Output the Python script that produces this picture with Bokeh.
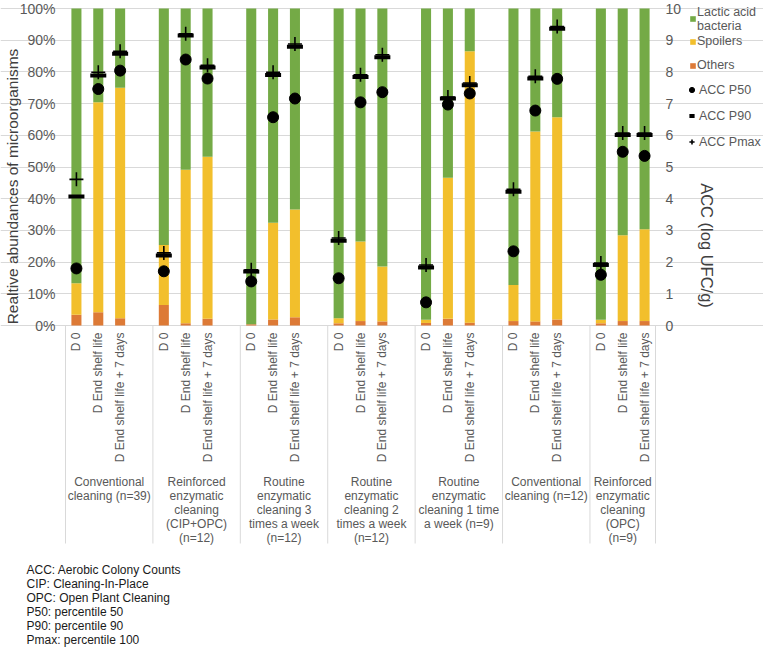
import math
from bokeh.plotting import figure
from bokeh.models import (ColumnDataSource, Range1d, LinearAxis, FixedTicker,
                          PrintfTickFormatter, Legend, LegendItem, Label, Grid)
from bokeh.embed import file_html
from bokeh.resources import INLINE

# ---------------- data ----------------
groups = [
    "Conventional\ncleaning (n=39)",
    "Reinforced\nenzymatic\ncleaning\n(CIP+OPC)\n(n=12)",
    "Routine\nenzymatic\ncleaning 3\ntimes a week\n(n=12)",
    "Routine\nenzymatic\ncleaning 2\ntimes a week\n(n=12)",
    "Routine\nenzymatic\ncleaning 1 time\na week (n=9)",
    "Conventional\ncleaning (n=12)",
    "Reinforced\nenzymatic\ncleaning\n(OPC)\n(n=9)",
]
timepoints = ["D 0", "D End shelf life", "D End shelf life + 7 days"]

# relative abundances (%), bars in order group by group, timepoint by timepoint
others = [3.4, 4.2, 2.3, 6.5, 0.7, 2.1, 0.4, 1.9, 2.6, 0.7, 1.4, 1.3,
          0.8, 2.1, 0.9, 1.4, 1.3, 1.9, 0.7, 1.4, 1.4]
spoilers = [9.9, 66.2, 72.7, 18.9, 48.4, 51.1, 0.0, 30.5, 34.0, 1.6, 25.1, 17.3,
            1.0, 44.5, 85.6, 11.4, 59.9, 63.8, 1.1, 27.1, 29.0]
lab = [86.7, 29.6, 25.0, 74.6, 50.9, 46.8, 99.6, 67.6, 63.4, 97.7, 73.5, 81.4,
       98.2, 53.4, 13.5, 87.2, 38.8, 34.3, 98.2, 71.5, 69.6]

# aerobic colony counts (log UFC/g)
acc_p50 = [1.80, 7.46, 8.04, 1.71, 8.39, 7.79, 1.39, 6.57, 7.16, 1.49, 7.04, 7.36,
           0.73, 6.97, 7.32, 2.34, 6.78, 7.78, 1.60, 5.48, 5.35]
acc_p90 = [4.07, 7.89, 8.57, 2.21, 9.15, 8.14, 1.70, 7.90, 8.79, 2.67, 7.84, 8.46,
           1.83, 7.16, 7.58, 4.22, 7.79, 9.36, 1.91, 6.01, 6.01]
acc_pmax = [4.61, 7.99, 8.65, 2.29, 9.20, 8.21, 1.76, 7.99, 8.88, 2.76, 7.91, 8.54,
            1.91, 7.21, 7.65, 4.30, 7.86, 9.43, 1.97, 6.07, 6.07]

pct_ticks = list(range(0, 101, 10))
acc_ticks = list(range(0, 11))

footnote = [
    "ACC: Aerobic Colony Counts",
    "CIP: Cleaning-In-Place",
    "OPC: Open Plant Cleaning",
    "P50: percentile 50",
    "P90: percentile 90",
    "Pmax: percentile 100",
]

# ---------------- layout of categories ----------------
SLOTS = 4                       # 3 bars + 1 empty slot per group
n_slots = len(groups) * SLOTS - 1
xs, xlabels = [], []
for g in range(len(groups)):
    for t, tp in enumerate(timepoints):
        xs.append(g * SLOTS + t + 0.5)
        xlabels.append(tp)
group_centers = [(g * SLOTS + min(g * SLOTS + SLOTS, n_slots)) / 2 for g in range(len(groups))]
dividers = [g * SLOTS for g in range(len(groups))] + [n_slots]

FONT = "Liberation Sans"
GREY = "#595959"
W, H = 763, 652
# pixel box of the bar area inside the canvas
PL, PR, PT, PB = 65, 655, 8, 325
ppx = (PR - PL) / n_slots
ppy = (PB - PT) / 100.0

def dx(px):
    return (px - PL) / ppx
def dy(py):
    return (PB - py) / ppy

p = figure(width=W, height=H,
           x_range=Range1d(dx(0), dx(W)), y_range=Range1d(dy(H), dy(0)),
           output_backend="svg", toolbar_location=None,
           x_axis_type=None, y_axis_type=None,
           min_border_left=0, min_border_right=0, min_border_top=0, min_border_bottom=0)
p.outline_line_color = None
p.extra_y_ranges = {"acc": Range1d(dy(H) / 10, dy(0) / 10)}

p.add_layout(Grid(dimension=1, ticker=FixedTicker(ticks=pct_ticks), bounds=(0, n_slots),
                  grid_line_color="#D9D9D9", grid_line_width=1))

# group dividers running down through the category labels
div_src = ColumnDataSource(dict(x=dividers, y0=[0] * len(dividers),
                                y1=[dy(543)] * len(dividers)))
p.segment(x0="x", y0="y0", x1="x", y1="y1", source=div_src,
          line_color="#D9D9D9", line_width=1)

src = ColumnDataSource(dict(x=xs, others=others, spoilers=spoilers, lab=lab,
                            p50=acc_p50, p90=acc_p90, pmax=acc_pmax))
bars = p.vbar_stack(["others", "spoilers", "lab"], x="x", width=0.46, source=src,
                    color=["#DD7A36", "#F2BF2C", "#74AA46"], line_color=None)
r_pmax = p.scatter("x", "pmax", source=src, y_range_name="acc", marker="cross",
                   size=14, line_color="black", line_width=1.6)
r_p90 = p.scatter("x", "p90", source=src, y_range_name="acc", marker="dash",
                  size=16, line_color="black", line_width=4)
r_p50 = p.scatter("x", "p50", source=src, y_range_name="acc", marker="circle",
                  size=11, fill_color="black", line_color="black")

# ---------------- axes ----------------
def style(ax, size):
    ax.axis_line_color = None
    ax.major_tick_line_color = None
    ax.minor_tick_line_color = None
    ax.major_tick_out = 0
    ax.major_tick_in = 0
    ax.minor_tick_in = 0
    ax.minor_tick_out = 0
    ax.major_label_text_font = FONT
    ax.major_label_text_font_size = size
    ax.major_label_text_color = GREY

yl = LinearAxis(ticker=FixedTicker(ticks=pct_ticks), formatter=PrintfTickFormatter(format="%d%%"),
                fixed_location=0)
style(yl, "14px")
yl.major_label_standoff = 10
p.add_layout(yl, "left")

yr = LinearAxis(y_range_name="acc", ticker=FixedTicker(ticks=acc_ticks), fixed_location=n_slots)
style(yr, "14px")
yr.major_label_standoff = 10
p.add_layout(yr, "right")

xa = LinearAxis(ticker=FixedTicker(ticks=xs), fixed_location=0,
                major_label_overrides={x: l for x, l in zip(xs, xlabels)})
style(xa, "12px")
xa.major_label_orientation = math.pi / 2
xa.major_label_standoff = 7
p.add_layout(xa, "below")

xg = LinearAxis(ticker=FixedTicker(ticks=group_centers), fixed_location=dy(464),
                major_label_overrides={c: l for c, l in zip(group_centers, groups)})
style(xg, "12px")
xg.major_label_text_line_height = 1.0
xg.major_label_standoff = 10
p.add_layout(xg, "below")

# ---------------- axis titles ----------------
p.add_layout(Label(x=dx(12), y=dy(186), text="Realtive abundances of microorganisms",
                   angle=math.pi / 2, text_align="center", text_baseline="middle",
                   text_font=FONT, text_font_size="15.5px", text_color="#404040"))
p.add_layout(Label(x=dx(706), y=dy(245), text="ACC (log UFC/g)",
                   angle=-math.pi / 2, text_align="center", text_baseline="middle",
                   text_font=FONT, text_font_size="16.5px", text_color="#404040"))

# ---------------- legends ----------------
def mk_legend(items, left_px, bottom_px, gw, gh, spacing):
    lg = Legend(items=items, location=(left_px, H - bottom_px), glyph_width=gw, glyph_height=gh,
                label_height=10, label_standoff=1, spacing=spacing, padding=0, margin=0,
                border_line_color=None, background_fill_alpha=0,
                label_text_font=FONT, label_text_font_size="12.5px", label_text_color=GREY,
                label_text_line_height=1.0)
    p.add_layout(lg)

mk_legend([LegendItem(label="Lactic acid\nbacteria", renderers=[bars[2]])],
          689, 32.5, 7, 7, 0)
mk_legend([LegendItem(label="Spoilers", renderers=[bars[1]]),
           LegendItem(label="Others", renderers=[bars[0]])],
          689, 72, 7, 7, 10)
mk_legend([LegendItem(label="ACC P50", renderers=[r_p50]),
           LegendItem(label="ACC P90", renderers=[r_p90]),
           LegendItem(label="ACC Pmax", renderers=[r_pmax])],
          685, 149, 13, 15, 11)

# ---------------- footnote ----------------
for i, line in enumerate(footnote):
    p.add_layout(Label(x=dx(26), y=dy(569 + 14 * i), text=line,
                       text_align="left", text_baseline="middle",
                       text_font=FONT, text_font_size="12px", text_color="#1a1a1a"))

open("out.html", "w").write(file_html(p, INLINE))
